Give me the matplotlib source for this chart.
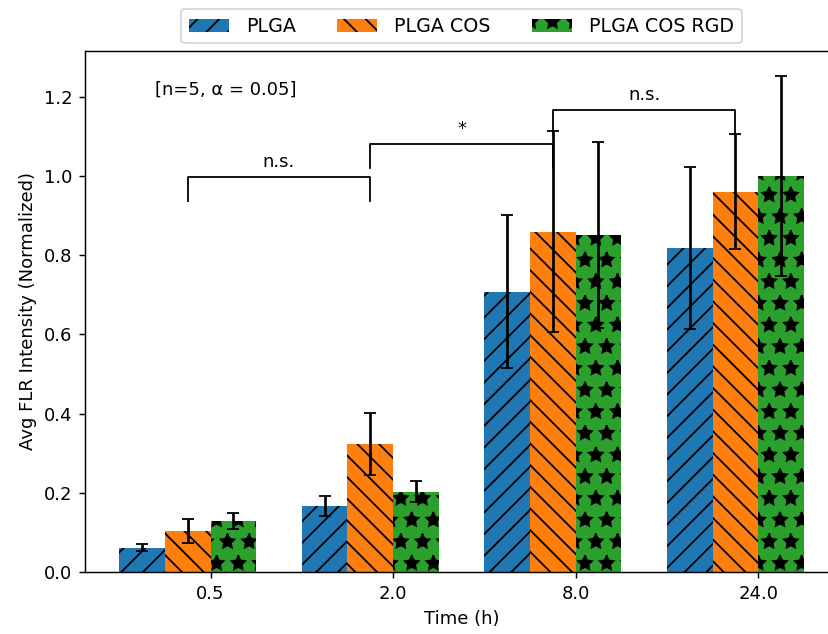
import numpy as np
import matplotlib
matplotlib.use("Agg")
import matplotlib.pyplot as plt

# ---- data ----
times = ["0.5", "2.0", "8.0", "24.0"]
series = ["PLGA", "PLGA COS", "PLGA COS RGD"]
hatches = ["//", "\\\\", "*"]

plga_mean = [0.061, 0.167, 0.708, 0.818]
plga_err = [0.009, 0.026, 0.194, 0.205]
cos_mean = [0.103, 0.323, 0.860, 0.961]
cos_err = [0.030, 0.078, 0.253, 0.146]
rgd_mean = [0.129, 0.203, 0.851, 1.000]
rgd_err = [0.021, 0.027, 0.235, 0.253]

# significance brackets: (group a, group b, height, label) on the PLGA COS bars
bracket_pairs = [(0, 1), (1, 2), (2, 3)]
bracket_tops = [0.998, 1.081, 1.166]
bracket_labels = ["n.s.", "*", "n.s."]
bracket_drop = 0.06

means = [plga_mean, cos_mean, rgd_mean]
errs = [plga_err, cos_err, rgd_err]

fig = plt.figure(figsize=(828 / 130, 634 / 130), dpi=130)
ax = fig.add_axes([0.1027, 0.0978, 0.9094, 0.8218])

x = np.arange(len(times))
width = 0.25
offsets = [-1.5 * width, -0.5 * width, 0.5 * width]

for i, name in enumerate(series):
    ax.bar(x + offsets[i], means[i], width, yerr=errs[i], capsize=3.3,
           hatch=hatches[i], color=f"C{i}", label=name)

# brackets between PLGA COS bars of neighbouring time points
for (a, b), top, lab in zip(bracket_pairs, bracket_tops, bracket_labels):
    xa = x[a] + offsets[1]
    xb = x[b] + offsets[1]
    ax.plot([xa, xa, xb, xb], [top - bracket_drop, top, top, top - bracket_drop],
            color="black", lw=1.0)
    ax.text((xa + xb) / 2, top + 0.015, lab, ha="center", va="bottom", fontsize=10)

ax.text(0.093, 0.925, "[n=5, \u03b1 = 0.05]", transform=ax.transAxes,
        ha="left", va="center", fontsize=10)

ax.set_xticks(x)
ax.set_xticklabels(times)
ax.set_ylim(0, 1.316)
ax.set_xlabel("Time (h)")
ax.set_ylabel("Avg FLR Intensity (Normalized)")
ax.legend(loc="lower center", bbox_to_anchor=(0.5, 1.0), ncol=3, fontsize=10.5,
          handlelength=2.1, handletextpad=0.9, columnspacing=2.2,
          borderaxespad=0.4)

fig.savefig("out.png", dpi=130)
